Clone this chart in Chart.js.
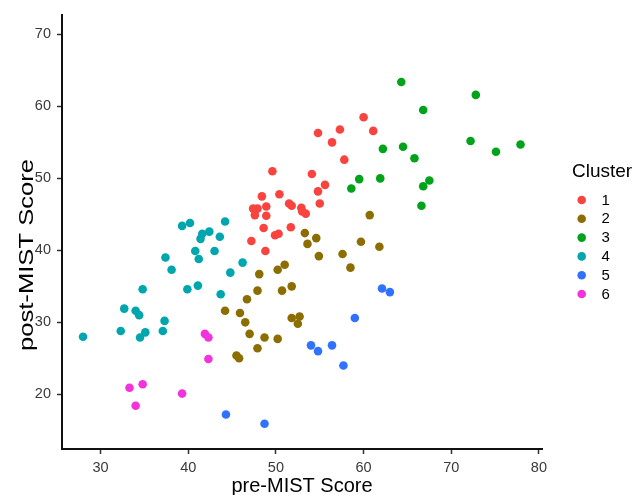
<!DOCTYPE html>
<html><head><meta charset="utf-8">
<script src="https://cdn.jsdelivr.net/npm/chart.js@4/dist/chart.umd.min.js"></script>
<style>html,body{margin:0;padding:0;background:#fff;}canvas{display:block;}</style>
</head><body>
<canvas id="c" width="637" height="495"></canvas>
<script>
const clusterNames = ['1','2','3','4','5','6'];
const clusterColors = ['#F8433F','#8C6E00','#00A31A','#00A6AD','#3171FF','#F232DA'];

const c1x = [54.8,57.3,60.0,61.1,56.4,57.8,49.6,54.1,55.6,54.8,55.0,48.4,50.4,51.5,51.8,52.9,53.0,53.4,47.4,47.9,48.9,47.6,48.9,48.6,51.7,49.9,50.3,47.2,48.8];
const c1y = [56.3,56.8,58.5,56.6,55.0,52.6,51.0,50.6,49.1,48.2,46.5,47.5,47.8,46.5,46.2,45.9,45.4,45.1,45.8,45.8,46.1,44.9,44.8,43.1,43.2,42.1,42.3,41.3,39.9];
const c2x = [60.7,53.3,54.6,53.6,54.9,59.7,61.8,57.6,58.5,51.0,50.2,48.1,47.9,50.7,51.8,51.8,52.7,52.5,48.7,50.2,47.9,46.7,44.2,45.9,46.5,47.0,45.5,45.8];
const c2y = [44.9,42.4,41.7,40.9,39.2,41.2,40.5,39.5,37.6,38.0,37.3,36.7,34.4,34.4,35.0,30.6,30.8,29.8,27.9,27.7,26.4,33.2,31.6,31.3,30.0,28.4,25.4,25.0];
const c3x = [64.3,72.8,66.8,64.5,65.8,72.2,75.1,77.9,67.5,66.8,66.6,62.2,59.5,58.6,61.9];
const c3y = [63.4,61.6,59.5,54.4,52.8,55.2,53.7,54.7,49.7,48.9,46.2,54.1,49.9,48.6,50.0];
const c4x = [28.0,32.7,32.3,34.0,34.4,34.5,35.1,34.8,37.1,37.3,37.4,38.1,39.3,40.2,39.9,41.1,40.8,41.2,41.4,41.6,42.4,43.0,43.6,44.2,43.7,44.8,46.2];
const c4y = [28.0,31.9,28.8,31.6,31.0,27.9,28.6,34.6,28.8,30.2,39.0,37.3,43.4,43.8,34.6,35.1,39.9,38.8,41.6,42.3,42.6,39.9,41.9,44.0,33.9,36.9,38.3];
const c5x = [44.3,54.0,54.8,56.4,57.7,48.7,59.0,62.1,63.0];
const c5y = [17.2,26.8,26.0,26.8,24.0,15.9,30.6,34.7,34.2];
const c6x = [41.9,42.3,42.3,33.3,34.8,34.0,39.3];
const c6y = [28.4,27.9,24.9,20.9,21.4,18.4,20.1];

const xTicks = [30,40,50,60,70,80];
const yTicks = [20,30,40,50,60,70];
const xTitle = 'pre-MIST Score';
const yTitle = 'post-MIST Score';
const legendTitle = 'Cluster';

const seriesX = [c1x,c2x,c3x,c4x,c5x,c6x];
const seriesY = [c1y,c2y,c3y,c4y,c5y,c6y];

const FONT = '"Liberation Sans", Arial, sans-serif';

const datasets = clusterNames.map((name, i) => ({
  label: name,
  data: seriesX[i].map((x, j) => ({x: x, y: seriesY[i][j]})),
  backgroundColor: clusterColors[i],
  borderColor: clusterColors[i],
  borderWidth: 0,
  pointRadius: 4.3,
  pointHoverRadius: 4.3
}));

const extraText = {
  id: 'extraText',
  afterDraw(chart) {
    const ctx = chart.ctx;
    ctx.save();
    ctx.fillStyle = '#000';
    ctx.font = '20px ' + FONT;
    ctx.textAlign = 'center';
    ctx.textBaseline = 'alphabetic';
    ctx.translate(33, 255);
    ctx.rotate(-Math.PI / 2);
    ctx.scale(1.28, 1);
    ctx.fillText(yTitle, 0, 0);
    ctx.restore();

    ctx.save();
    ctx.fillStyle = '#000';
    ctx.font = '19px ' + FONT;
    ctx.textAlign = 'left';
    ctx.textBaseline = 'middle';
    ctx.fillText(legendTitle, 572, 172);
    ctx.font = '15px ' + FONT;
    chart.data.datasets.forEach((ds, i) => {
      const y = 200 + i * 18.8;
      ctx.beginPath();
      ctx.fillStyle = ds.backgroundColor;
      ctx.arc(581.7, y, 4.3, 0, Math.PI * 2);
      ctx.fill();
      ctx.fillStyle = '#000';
      ctx.fillText(ds.label, 601.5, y + 0.5);
    });
    ctx.restore();
  }
};

new Chart(document.getElementById('c'), {
  type: 'scatter',
  data: { datasets: datasets },
  options: {
    responsive: false,
    animation: false,
    devicePixelRatio: 1,
    layout: { padding: { left: 0, right: 95, top: 15, bottom: 0 } },
    plugins: { legend: { display: false }, tooltip: { enabled: false } },
    scales: {
      x: {
        type: 'linear',
        min: 25.6, max: 80.35,
        afterBuildTicks: s => { s.ticks = xTicks.map(v => ({value: v})); },
        afterFit: s => { s.height = 46; },
        ticks: { font: { size: 14.5, family: FONT }, color: '#3A3A3A', padding: 5 },
        grid: { display: true, drawOnChartArea: false, drawTicks: true, tickLength: 5, tickWidth: 1.5, tickColor: '#333' },
        border: { display: true, width: 2, color: '#111' },
        title: { display: true, text: xTitle, font: { size: 20, family: FONT }, color: '#000', padding: { top: 0, bottom: -3 } }
      },
      y: {
        type: 'linear',
        min: 12.4, max: 72.7,
        afterBuildTicks: s => { s.ticks = yTicks.map(v => ({value: v})); },
        afterFit: s => { s.width = 62; },
        ticks: { font: { size: 14.5, family: FONT }, color: '#3A3A3A', padding: 6 },
        grid: { display: true, drawOnChartArea: false, drawTicks: true, tickLength: 5, tickWidth: 1.5, tickColor: '#333' },
        border: { display: true, width: 2, color: '#111' },
        title: { display: false }
      }
    }
  },
  plugins: [extraText]
});
</script>
</body></html>
